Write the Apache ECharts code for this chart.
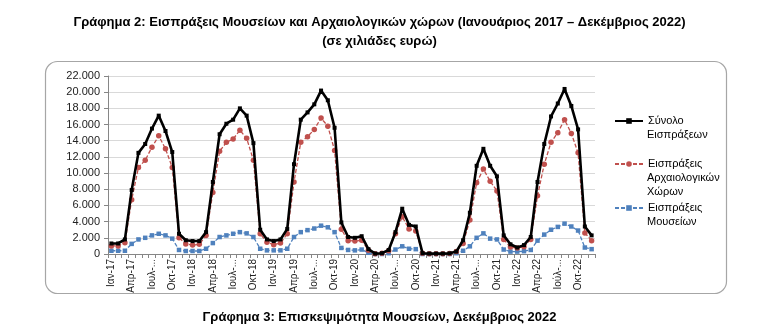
<!DOCTYPE html>
<html>
<head>
<meta charset="utf-8">
<script src="https://cdn.jsdelivr.net/npm/echarts@6/dist/echarts.min.js"></script>
<style>
html,body{margin:0;padding:0;background:#fff;}
#c{width:759px;height:331px;}
</style>
</head>
<body>
<div id="c"></div>
<script>
const monthNames = ['Ιαν','Φεβ','Μαρ','Απρ','Μαϊ','Ιουν','Ιουλ','Αυγ','Σεπ','Οκτ','Νοε','Δεκ'];
const years = ['17','18','19','20','21','22'];
const categories = [];
years.forEach(y => monthNames.forEach(m => categories.push((y === '22' && m === 'Ιουλ' ? 'Ιούλ' : m) + '-' + y)));

const totalSeries = [
  1300,1300,1800,7900,12500,13600,15500,17100,15200,12600,2500,1700,
  1600,1600,2700,8900,14800,16100,16600,18000,17100,13700,3000,1800,
  1600,1800,3100,11100,16600,17500,18500,20200,19000,15600,3900,2100,
  2000,2200,600,50,100,500,2700,5600,3600,3400,100,50,
  50,50,80,300,1700,5100,10900,13000,10900,9600,2300,1200,
  800,1100,2100,8900,13600,17000,18600,20400,18300,15400,3400,2300
];
const archSeries = [
  1000,1000,1400,6700,10700,11600,13200,14600,13000,10700,2000,1250,
  1100,1200,2300,7600,12700,13800,14200,15300,14300,11600,2500,1450,
  1150,1350,2500,8900,13800,14500,15400,16800,15800,12800,3050,1650,
  1600,1700,450,20,80,400,2500,4600,3100,2850,100,40,
  40,40,60,300,1300,4200,8800,10500,9000,7800,1800,850,
  750,900,1800,7200,11100,13800,15000,16600,14900,12500,2600,1650
];
const museumSeries = [
  400,400,400,1250,1800,2000,2300,2500,2300,1900,500,370,
  370,370,650,1350,2100,2300,2500,2700,2550,2100,650,450,
  450,450,650,2100,2700,2950,3150,3500,3300,2700,750,500,
  450,550,150,0,0,100,550,950,650,600,0,0,
  0,0,0,100,400,950,2000,2550,1900,1800,550,300,
  300,350,500,1650,2400,3000,3350,3750,3400,2900,800,600
];
const yTicks = [0,2000,4000,6000,8000,10000,12000,14000,16000,18000,20000,22000];
const seriesNames = ['Σύνολο Εισπράξεων','Εισπράξεις Αρχαιολογικών Χώρων','Εισπράξεις Μουσείων'];
const legendFirstLines = ['Σύνολο','Εισπράξεις','Εισπράξεις'];
const legendMoreLines = [['Εισπράξεων'],['Αρχαιολογικών','Χώρων'],['Μουσείων']];

const FONT = 'Liberation Sans';
const chart = echarts.init(document.getElementById('c'), null, {renderer:'canvas'});

const legendTops = [114.5, 157.5, 201.5];
const legends = seriesNames.map((n,i) => ({
  data:[n], left:614, top:legendTops[i], itemWidth:28, itemHeight:7, padding:0, itemGap:0,
  formatter: () => legendFirstLines[i],
  textStyle:{fontFamily:FONT, fontSize:11, color:'#000', lineHeight:13},
  selectedMode:false
}));
const extraText = [];
legendMoreLines.forEach((lines,i) => lines.forEach((t,j) => extraText.push({
  type:'text', left:647, top:legendTops[i] + 14.5*(j+1),
  style:{text:t, font:'11px ' + FONT, fill:'#000'}
})));

chart.setOption({
  animation:false,
  textStyle:{fontFamily:FONT},
  graphic:[
    {type:'rect', shape:{x:45.5, y:61.5, width:681, height:232, r:12},
     style:{fill:'none', stroke:'#a6a6a6', lineWidth:1.2}, z:-1},
    {type:'text', left:'center', top:16,
     style:{text:'Γράφημα 2: Εισπράξεις Μουσείων και Αρχαιολογικών χώρων (Ιανουάριος 2017 – Δεκέμβριος 2022)',
            font:'bold 13px ' + FONT, fill:'#000'}},
    {type:'text', left:'center', top:35,
     style:{text:'(σε χιλιάδες ευρώ)', font:'bold 13px ' + FONT, fill:'#000'}},
    {type:'text', left:'center', top:311,
     style:{text:'Γράφημα 3: Επισκεψιμότητα Μουσείων, Δεκέμβριος 2022', font:'bold 13px ' + FONT, fill:'#000'}}
  ].concat(extraText),
  legend: legends,
  grid:{left:108, right:164, top:76, bottom:77, containLabel:false},
  xAxis:{
    type:'category', data:categories, boundaryGap:true,
    axisLine:{lineStyle:{color:'#868686', width:1}},
    axisTick:{show:true, interval:0, length:4, lineStyle:{color:'#868686'}},
    axisLabel:{interval:2, rotate:90, fontSize:10, color:'#222', margin:5,
      formatter:(v) => v.startsWith('Ιουλ') || v.startsWith('Ιούλ') ? v.slice(0,4) + '-...' : v}
  },
  yAxis:{
    type:'value', min:0, max:22000, interval:2000,
    axisLine:{show:true, lineStyle:{color:'#868686'}},
    axisTick:{show:true, length:4, lineStyle:{color:'#868686'}},
    splitLine:{lineStyle:{color:'#d9d9d9'}},
    axisLabel:{fontSize:11, color:'#222', margin:8,
      formatter:(v) => yTicks.includes(v) ? (v === 0 ? '0' : (v/1000) + '.000') : ''}
  },
  series:[
    {name:seriesNames[0], type:'line', data:totalSeries, symbol:'rect', symbolSize:4, showAllSymbol:true,
     lineStyle:{color:'#000', width:2.6}, itemStyle:{color:'#000'}, z:3},
    {name:seriesNames[1], type:'line', data:archSeries, symbol:'circle', symbolSize:5.5, showAllSymbol:true,
     lineStyle:{color:'#c0504d', width:1.3, type:[4,2]}, itemStyle:{color:'#c0504d'}, z:2},
    {name:seriesNames[2], type:'line', data:museumSeries, symbol:'rect', symbolSize:4.5, showAllSymbol:true,
     lineStyle:{color:'#4f81bd', width:1.3, type:[4,2]}, itemStyle:{color:'#4f81bd'}, z:1}
  ]
});
</script>
</body>
</html>
